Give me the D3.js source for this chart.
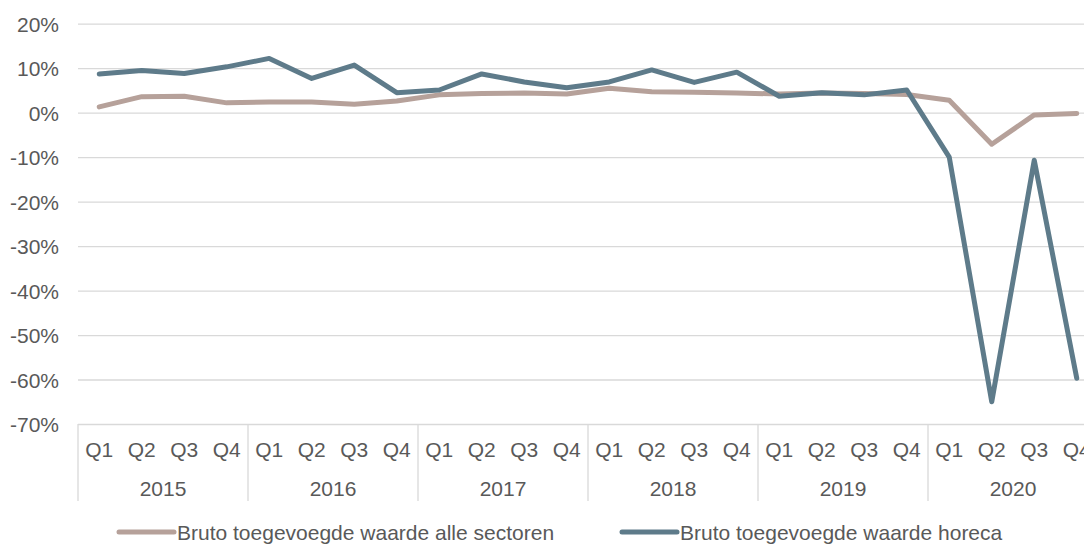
<!DOCTYPE html>
<html>
  <head>
    <meta charset="utf-8">
    <style>
      body { margin: 0; background: #fff; }
      svg { display: block; font-family: "Liberation Sans", Arial, sans-serif; }
      .axis text { font-size: 21px; fill: #595959; font-family: "Liberation Sans", Arial, sans-serif; }
      .legend text { font-size: 21px; fill: #595959; }
    </style>
  </head>
  <body>
    <div id='graph'></div>

    <script src="https://cdn.jsdelivr.net/npm/d3@7"></script>
    <script>

    var years = ['2015', '2016', '2017', '2018', '2019', '2020'];
    var quarters = ['Q1', 'Q2', 'Q3', 'Q4'];

    // % change, per quarter 2015 Q1 .. 2020 Q4
    var sectoren = [1.3, 3.6, 3.7, 2.2,  2.4, 2.4, 1.9, 2.6,  4.0, 4.3, 4.4, 4.2,
                    5.5, 4.7, 4.6, 4.4,  4.2, 4.4, 4.3, 4.1,  2.8, -7.1, -0.5, -0.2];
    var horeca = [8.7, 9.5, 8.8, 10.3,  12.2, 7.7, 10.7, 4.5,  5.1, 8.7, 6.9, 5.6,
                  6.9, 9.6, 6.8, 9.1,  3.7, 4.5, 4.0, 5.1,  -10.0, -65.0, -10.7, -59.7];

    var yTicks = [20, 10, 0, -10, -20, -30, -40, -50, -60, -70];

    var seriesNames = ['Bruto toegevoegde waarde alle sectoren', 'Bruto toegevoegde waarde horeca'];
    var colors = ['#b6a19a', '#5e7b8a'];

    var width = 1084, height = 545;
    var plotLeft = 78, plotRight = 1098, plotTop = 23.7, plotBottom = 424;

    var keys = [];
    years.forEach(function(yr) {
      quarters.forEach(function(q) { keys.push(yr + ' ' + q); });
    });

    var svg = d3.select('#graph').append('svg')
        .attr('width', width)
        .attr('height', height);

    var x = d3.scaleBand().domain(keys).range([plotLeft, plotRight]);
    var xYear = d3.scaleBand().domain(years).range([plotLeft, plotRight]);
    var y = d3.scaleLinear().domain([-70, 20]).range([plotBottom, plotTop]);

    // gridlines + y labels
    var yAxis = svg.append('g')
        .attr('class', 'axis')
        .attr('transform', 'translate(' + plotLeft + ',0)')
        .call(d3.axisLeft(y)
          .tickValues(yTicks)
          .tickSize(-(plotRight - plotLeft))
          .tickPadding(19)
          .tickFormat(function(d) { return d + '%'; }));
    yAxis.select('.domain').remove();
    yAxis.selectAll('line').attr('stroke', '#d9d9d9').attr('stroke-width', 1.3);
    yAxis.selectAll('text').attr('dy', '0.36em');

    // quarter labels
    var qAxis = svg.append('g')
        .attr('class', 'axis')
        .attr('transform', 'translate(0,' + plotBottom + ')')
        .call(d3.axisBottom(x)
          .tickSize(0)
          .tickPadding(18)
          .tickFormat(function(d) { return d.split(' ')[1]; }));
    qAxis.select('.domain').remove();

    // year labels
    var yrAxis = svg.append('g')
        .attr('class', 'axis')
        .attr('transform', 'translate(0,' + plotBottom + ')')
        .call(d3.axisBottom(xYear)
          .tickSize(0)
          .tickPadding(57)
          .tickFormat(function(d) { return d; }));
    yrAxis.select('.domain').remove();

    // year separators
    var bounds = years.map(function(d) { return xYear(d); }).concat([plotRight]);
    svg.append('g').selectAll('line')
        .data(bounds)
        .enter().append('line')
        .attr('x1', function(d) { return d; })
        .attr('x2', function(d) { return d; })
        .attr('y1', plotBottom)
        .attr('y2', 501)
        .attr('stroke', '#d9d9d9')
        .attr('stroke-width', 1.3);

    var line = d3.line()
        .x(function(d, i) { return x(keys[i]) + x.bandwidth() / 2; })
        .y(function(d) { return y(d); });

    [sectoren, horeca].forEach(function(s, i) {
      svg.append('path')
          .datum(s)
          .attr('d', line)
          .attr('fill', 'none')
          .attr('stroke', colors[i])
          .attr('stroke-width', 5)
          .attr('stroke-linejoin', 'round')
          .attr('stroke-linecap', 'round');
    });

    // legend
    var legendX = [119, 622];
    var legend = svg.append('g').attr('class', 'legend');
    seriesNames.forEach(function(name, i) {
      legend.append('line')
          .attr('x1', legendX[i]).attr('x2', legendX[i] + 55)
          .attr('y1', 532).attr('y2', 532)
          .attr('stroke', colors[i])
          .attr('stroke-width', 5)
          .attr('stroke-linecap', 'round');
      legend.append('text')
          .attr('x', legendX[i] + 58)
          .attr('y', 539.5)
          .text(name);
    });

    </script>
  </body>
</html>
